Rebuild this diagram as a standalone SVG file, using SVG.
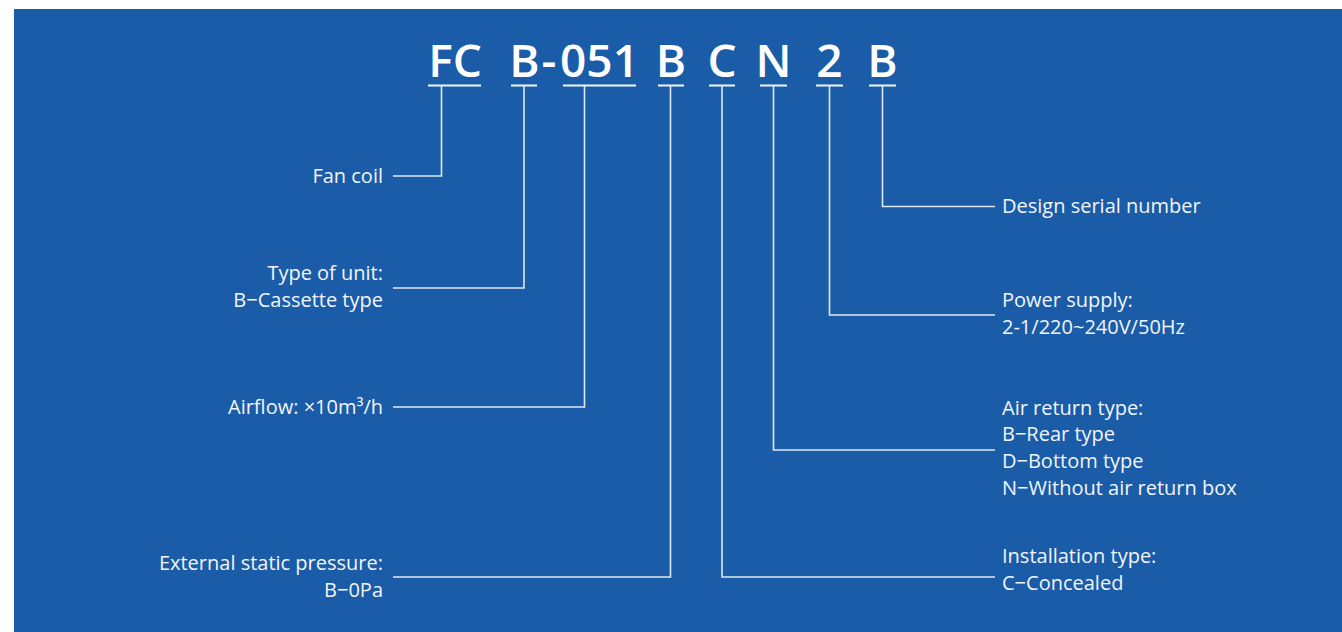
<svg xmlns="http://www.w3.org/2000/svg" width="1342" height="632" viewBox="0 0 1342 632">
<style>
.code{font-family:"Open Sans","Liberation Sans",sans-serif;font-weight:600;font-size:46px;fill:#ffffff;text-anchor:middle}
.lbl{font-family:"Open Sans","Liberation Sans",sans-serif;font-size:20px;fill:#f2f5fa}
.l{text-anchor:end}
.ul{stroke:#f2f5fa;stroke-width:2.2;fill:none}
.con{stroke:#dfe7f2;stroke-width:1.6;fill:none}
</style>
<rect x="0" y="0" width="1342" height="632" fill="#ffffff"/>
<rect x="14" y="9" width="1328" height="623" fill="#1a5ca8"/>
<g id="code">
<text class="code" x="455" y="76.5">FC</text>
<text class="code" x="524.5" y="76.5">B</text>
<text class="code" x="549" y="76.5">-</text>
<text class="code" x="599.5" y="76.5">051</text>
<text class="code" x="671" y="76.5">B</text>
<text class="code" x="722" y="76.5">C</text>
<text class="code" x="773.5" y="76.5">N</text>
<text class="code" x="829.5" y="76.5">2</text>
<text class="code" x="882.5" y="76.5">B</text>
<path class="ul" d="M428 85.5H481M511 85.5H537M563 85.5H636M658 85.5H684M709 85.5H735M760 85.5H787M816 85.5H843M869 85.5H896"/>
</g>
<g id="connectors">
<path class="con" d="M441.5 86V176H393"/>
<path class="con" d="M524 86V288H393"/>
<path class="con" d="M584.5 86V407H393"/>
<path class="con" d="M670.5 86V577H393"/>
<path class="con" d="M722 86V577H995"/>
<path class="con" d="M773.5 86V450H995"/>
<path class="con" d="M829.5 86V315H995"/>
<path class="con" d="M882.5 86V206.5H995"/>
</g>
<g id="fan-coil"><text class="lbl l" x="383" y="183">Fan coil</text></g>
<g id="type-of-unit"><text class="lbl l" x="383" y="280">Type of unit:</text><text class="lbl l" x="383" y="307">B−Cassette type</text></g>
<g id="airflow"><text class="lbl l" x="383" y="414">Airflow: ×10m³/h</text></g>
<g id="static-pressure"><text class="lbl l" x="383" y="570">External static pressure:</text><text class="lbl l" x="383" y="597">B−0Pa</text></g>
<g id="design-serial"><text class="lbl" x="1002" y="213">Design serial number</text></g>
<g id="power-supply"><text class="lbl" x="1002" y="307">Power supply:</text><text class="lbl" x="1002" y="334">2-1/220~240V/50Hz</text></g>
<g id="air-return"><text class="lbl" x="1002" y="415">Air return type:</text><text class="lbl" x="1002" y="441">B−Rear type</text><text class="lbl" x="1002" y="468">D−Bottom type</text><text class="lbl" x="1002" y="495">N−Without air return box</text></g>
<g id="installation"><text class="lbl" x="1002" y="563">Installation type:</text><text class="lbl" x="1002" y="590">C−Concealed</text></g>
</svg>
